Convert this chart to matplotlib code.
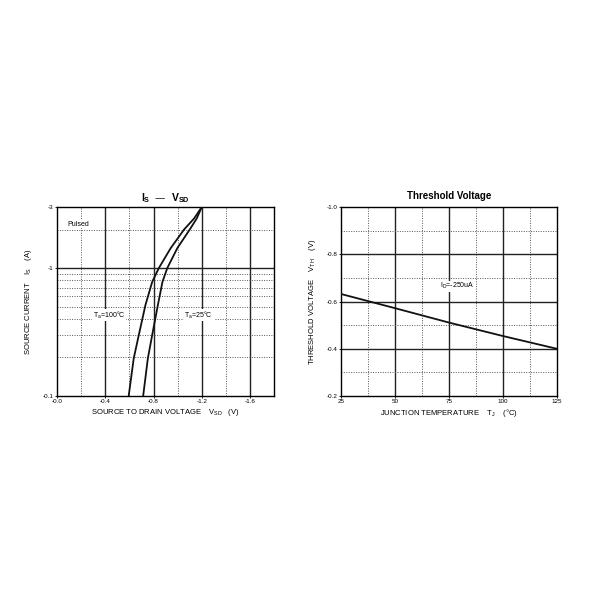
import matplotlib
matplotlib.use("Agg")
import matplotlib.pyplot as plt
import numpy as np

plt.rcParams['font.family'] = ['Liberation Sans', 'DejaVu Sans']
plt.rcParams['mathtext.default'] = 'regular'

# Left chart: Is - Vsd (magnitudes)
is_current = [0.1, 0.197, 0.30, 0.514, 0.78, 1.0, 1.43, 2.0, 2.44, 3.0]
vsd_100c = [0.594, 0.636, 0.678, 0.733, 0.789, 0.844, 0.942, 1.053, 1.136, 1.2]
vsd_25c = [0.714, 0.753, 0.789, 0.836, 0.874, 0.914, 0.997, 1.10, 1.158, 1.2]
left_xticks = [0.0, 0.4, 0.8, 1.2, 1.6]
left_xticklabels = ["-0.0", "-0.4", "-0.8", "-1.2", "-1.6"]
left_yticks = [0.1, 1.0, 3.0]
left_yticklabels = ["-0.1", "-1", "-3"]

# Right chart: threshold voltage vs temperature
tj = [25, 37.5, 50, 75, 100, 125]
vth = [0.632, 0.602, 0.572, 0.511, 0.454, 0.40]
right_xticks = [25, 50, 75, 100, 125]
right_yticks = [0.2, 0.4, 0.6, 0.8, 1.0]
right_yticklabels = ["-0.2", "-0.4", "-0.6", "-0.8", "-1.0"]

fig = plt.figure(figsize=(6, 6), dpi=100)

grid_major = dict(color='#222222', lw=1.0, zorder=1)
grid_minor = dict(color='#555555', lw=0.7, ls=(0, (1, 1.5)), zorder=1)

# ---------- Left ----------
ax = fig.add_axes([0.095, 0.34, 0.362, 0.315])
ax.set_yscale('log')
ax.set_xlim(0, 1.8)
ax.set_ylim(0.1, 3)
for x in [0.4, 0.8, 1.2, 1.6]:
    ax.axvline(x, **grid_major)
for x in [0.2, 0.6, 1.0, 1.4]:
    ax.axvline(x, **grid_minor)
ax.axhline(1.0, **grid_major)
for y in [0.2, 0.3, 0.4, 0.5, 0.6, 0.7, 0.8, 0.9, 2.0]:
    ax.axhline(y, **grid_minor)
ax.plot(vsd_100c, is_current, color='#111111', lw=1.3, zorder=3)
ax.plot(vsd_25c, is_current, color='#111111', lw=1.3, zorder=3)
ax.set_xticks(left_xticks)
ax.set_xticklabels(left_xticklabels)
ax.set_yticks(left_yticks)
ax.set_yticklabels(left_yticklabels)
ax.yaxis.set_minor_locator(matplotlib.ticker.NullLocator())
ax.tick_params(labelsize=4.5, length=1.5, width=0.6, pad=1)
for s in ax.spines.values():
    s.set_linewidth(1.0)
ax.text(0.09, 2.2, "Pulsed", fontsize=5, ha='left', va='center',
        bbox=dict(fc='white', ec='none', pad=0.5), zorder=4)
ax.text(0.43, 0.43, "T$_{a}$=100°C", fontsize=5, ha='center', va='center',
        bbox=dict(fc='white', ec='none', pad=0.5), zorder=4)
ax.text(1.175, 0.43, "T$_{a}$=25°C", fontsize=5, ha='center', va='center',
        bbox=dict(fc='white', ec='none', pad=0.5), zorder=4)
ax.set_title("I$_{S}$  \u2014  V$_{SD}$", fontsize=7.5, fontweight='bold', pad=4)
ax.set_xlabel("SOURCE TO DRAIN VOLTAGE    V$_{SD}$   (V)", fontsize=5.5, labelpad=2)
ax.set_ylabel("SOURCE CURRENT    I$_{S}$    (A)", fontsize=5.5, labelpad=6)

# ---------- Right ----------
ax2 = fig.add_axes([0.568, 0.34, 0.36, 0.315])
ax2.set_xlim(25, 125)
ax2.set_ylim(0.2, 1.0)
for x in [50, 75, 100]:
    ax2.axvline(x, **grid_major)
for x in [37.5, 62.5, 87.5, 112.5]:
    ax2.axvline(x, **grid_minor)
for y in [0.4, 0.6, 0.8]:
    ax2.axhline(y, **grid_major)
for y in [0.3, 0.5, 0.7, 0.9]:
    ax2.axhline(y, **grid_minor)
ax2.plot(tj, vth, color='#111111', lw=1.3, zorder=3)
ax2.set_xticks(right_xticks)
ax2.set_yticks(right_yticks)
ax2.set_yticklabels(right_yticklabels)
ax2.tick_params(labelsize=4.5, length=1.5, width=0.6, pad=1)
for s in ax2.spines.values():
    s.set_linewidth(1.0)
ax2.text(79, 0.664, "I$_{D}$=-250uA", fontsize=5, ha='center', va='center',
         bbox=dict(fc='white', ec='none', pad=0.5), zorder=4)
ax2.set_title("Threshold Voltage", fontsize=7, fontweight='bold', pad=6)
ax2.set_xlabel("JUNCTION TEMPERATURE    T$_{J}$    (°C)", fontsize=5.5, labelpad=2)
ax2.set_ylabel("THRESHOLD VOLTAGE    V$_{TH}$    (V)", fontsize=5.5, labelpad=6)

fig.savefig("out.png", dpi=100, facecolor='white')
